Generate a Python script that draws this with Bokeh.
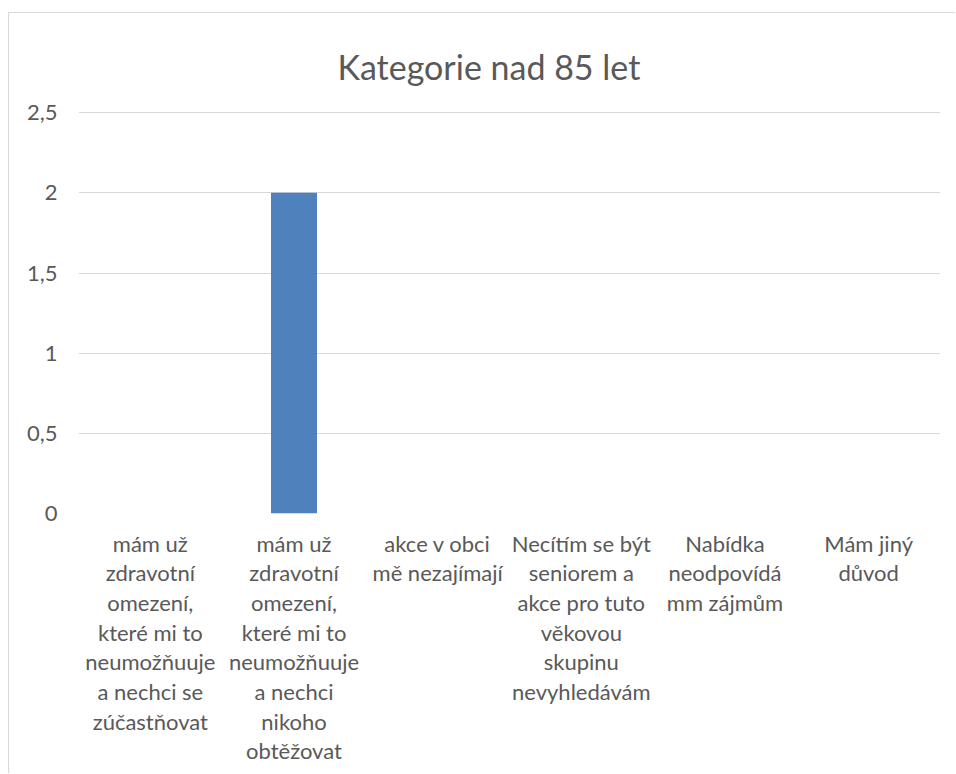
from bokeh.plotting import figure
from bokeh.models import FixedTicker, Range1d, Spacer
from bokeh.layouts import column, row
from bokeh.embed import file_html
from bokeh.resources import INLINE

title_text = "Kategorie nad 85 let"
categories = [
    "mám už\nzdravotní\nomezení,\nkteré mi to\nneumožňuuje\na nechci se\nzúčastňovat",
    "mám už\nzdravotní\nomezení,\nkteré mi to\nneumožňuuje\na nechci\nnikoho\nobtěžovat",
    "akce v obci\nmě nezajímají",
    "Necítím se být\nseniorem a\nakce pro tuto\nvěkovou\nskupinu\nnevyhledávám",
    "Nabídka\nneodpovídá\nmm zájmům",
    "Mám jiný\ndůvod",
]
values = [0, 2, 0, 0, 0, 0]
y_ticks = [0, 0.5, 1, 1.5, 2, 2.5]
y_tick_labels = ["0", "0,5", "1", "1,5", "2", "2,5"]

FONT = "Lato"
TXT = "#595959"

p = figure(
    x_range=categories,
    y_range=Range1d(0, y_ticks[-1] * 1.003),
    width=947, height=761,
    output_backend="svg", toolbar_location=None,
    min_border_left=69, min_border_right=16,
    min_border_top=98, min_border_bottom=261,
)
p.x_range.range_padding = 0

p.vbar(x=categories, top=values, width=0.32, fill_color="#4f81bd", line_color=None)

p.outline_line_color = None
p.xgrid.visible = False
p.ygrid.grid_line_color = "#d9d9d9"
p.ygrid.grid_line_width = 1

p.yaxis.ticker = FixedTicker(ticks=y_ticks)
p.yaxis.major_label_overrides = {t: l for t, l in zip(y_ticks, y_tick_labels)}
p.yaxis.axis_line_color = None
p.yaxis.major_tick_line_color = None
p.yaxis.minor_tick_line_color = None
p.yaxis.major_label_standoff = 15
p.yaxis.major_label_text_font = FONT
p.yaxis.major_label_text_font_size = "22px"
p.yaxis.major_label_text_color = TXT

p.xaxis.axis_line_color = None
p.xaxis.major_tick_line_color = None
p.xaxis.major_label_standoff = 10
p.xaxis.major_label_text_font = FONT
p.xaxis.major_label_text_font_size = "22px"
p.xaxis.major_label_text_color = TXT
p.xaxis.major_label_text_line_height = 1.1
p.xaxis.major_label_orientation = "horizontal"

p.title.text = title_text
p.title.align = "left"
p.title.text_font = FONT
p.title.text_font_size = "34px"
p.title.text_font_style = "normal"
p.title.text_color = TXT
p.title.text_line_height = 0.7
p.title.offset = 259
p.title.standoff = 50

p.styles = {"border-left": "1px solid #d9d9d9", "border-top": "1px solid #d9d9d9"}

layout = column(Spacer(height=12), row(Spacer(width=8), p))
open("out.html", "w").write(file_html(layout, INLINE))
